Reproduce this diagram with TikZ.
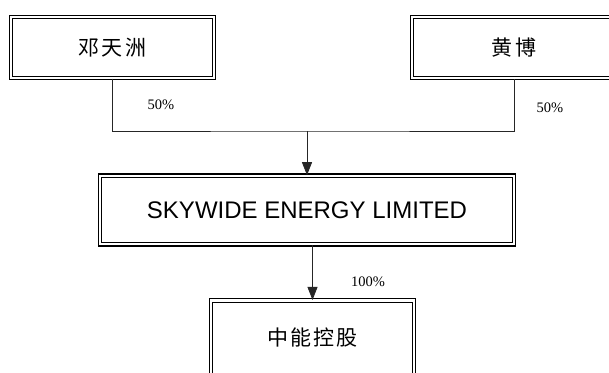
\documentclass[tikz,border=0pt]{standalone}
\usepackage{fontspec}
\setmainfont{Liberation Serif}
\newfontfamily\cjk[LetterSpace=10]{Noto Sans CJK SC}
\newfontfamily\arialf{Liberation Sans}
\usetikzlibrary{arrows.meta}
\begin{document}
\begin{tikzpicture}[x=1pt,y=-1pt,
  dbox/.style={draw=black, double=white, line width=1.1pt, double distance=2.4pt,
    rectangle, inner sep=0pt, anchor=center},
  conn/.style={draw=black!85, line width=0.8pt},
  arr/.style={conn, -{Triangle[length=13pt,width=10pt]}},
  pct/.style={inner sep=0pt, font=\fontsize{14.5}{16}\selectfont},
  cjkt/.style={font=\fontsize{21}{25}\cjk},
]
\clip (0,0) rectangle (609,372);
\fill[white] (0,0) rectangle (609,372);

\node[dbox, cjkt, minimum width=203pt, minimum height=61pt] (a) at (112.5,47.5) {邓天洲};
\node[dbox, cjkt, minimum width=204pt, minimum height=61pt] (b) at (514,47.5) {黄博};
\node[dbox, font=\fontsize{24}{28}\arialf, minimum width=414pt, minimum height=68.5pt] (s) at (307,210) {SKYWIDE ENERGY LIMITED};
\node[dbox, cjkt, minimum width=203pt, minimum height=75pt] (c) at (312.5,338) {中能控股};

\coordinate (j) at (307,131);
\draw[conn] (a.south) |- (j) -| (b.south);
\draw[arr] (j) -- (s.north);
\draw[arr] (s.south -| c.north) -- (c.north);

\node[pct] (p1) at (161,105) {50\%};
\node[pct] (p2) at (550,108) {50\%};
\node[pct] (p3) at (368,282) {100\%};
\end{tikzpicture}
\end{document}
